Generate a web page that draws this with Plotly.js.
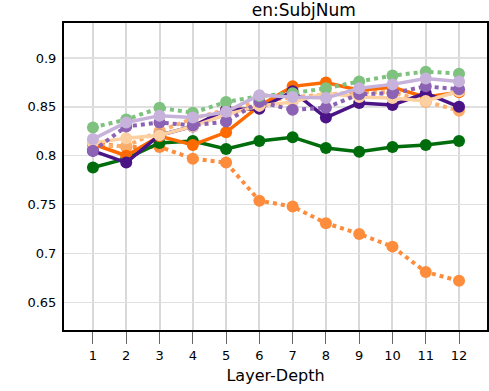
<!DOCTYPE html>
<html>
<head>
<meta charset="utf-8">
<script src="https://cdn.plot.ly/plotly-3.0.1.min.js"></script>
<style>
  html, body { margin: 0; padding: 0; background: #fff; }
  #graph { width: 489px; height: 391px; }
</style>
</head>
<body>
<div id="graph"></div>
<script>
const layers = [1, 2, 3, 4, 5, 6, 7, 8, 9, 10, 11, 12];

const greenSolid = [0.788, 0.797, 0.813, 0.815, 0.807, 0.815, 0.819, 0.808, 0.804, 0.809, 0.811, 0.815];
const greenDot = [0.829, 0.837, 0.849, 0.844, 0.855, 0.861, 0.864, 0.869, 0.876, 0.882, 0.886, 0.884];
const orangeSolid = [0.812, 0.800, 0.820, 0.811, 0.824, 0.851, 0.871, 0.875, 0.867, 0.870, 0.860, 0.865];
const orangeDot = [0.813, 0.809, 0.809, 0.797, 0.793, 0.754, 0.748, 0.731, 0.720, 0.707, 0.681, 0.672];
const peachSolid = [0.813, 0.818, 0.821, 0.830, 0.842, 0.851, 0.855, 0.864, 0.860, 0.859, 0.856, 0.866];
const peachDot = [0.810, 0.810, 0.825, 0.838, 0.847, 0.855, 0.860, 0.862, 0.865, 0.865, 0.855, 0.846];
const purpleSolid = [0.805, 0.793, 0.821, 0.830, 0.847, 0.848, 0.866, 0.839, 0.854, 0.852, 0.864, 0.850];
const purpleDot = [0.805, 0.830, 0.834, 0.831, 0.835, 0.855, 0.847, 0.849, 0.863, 0.864, 0.871, 0.868];
const lavenderSolid = [0.817, 0.834, 0.841, 0.839, 0.845, 0.862, 0.860, 0.859, 0.869, 0.873, 0.879, 0.876];

function series(y, color, dash) {
  return {
    x: layers,
    y: y,
    type: "scatter",
    mode: "lines+markers",
    line: { color: color, width: dash === "dot" ? 4 : 3.5, dash: dash },
    marker: { color: color, size: 12 },
    hoverinfo: "skip",
  };
}

const data = [
  series(orangeDot, "#fd8d3c", "dot"),
  series(peachDot, "#fdae6b", "dot"),
  series(greenSolid, "#006d0c", "solid"),
  series(orangeSolid, "#fd6a02", "solid"),
  series(purpleSolid, "#4a1486", "solid"),
  series(peachSolid, "#fdd0a2", "solid"),
  series(purpleDot, "#8c62b4", "dot"),
  series(greenDot, "#7fc27f", "dot"),
  series(lavenderSolid, "#c6b2db", "solid"),
];

const layout = {
  width: 489,
  height: 391,
  showlegend: false,
  paper_bgcolor: "#fff",
  plot_bgcolor: "#fff",
  font: { family: "DejaVu Sans, Verdana, sans-serif", color: "#000", size: 13 },
  margin: { l: 64, r: 2, t: 23, b: 61 },
  title: {
    text: "en:SubjNum",
    font: { size: 17 },
    xref: "paper",
    x: 0.567,
    xanchor: "center",
    y: 0.975,
    yanchor: "middle",
  },
  xaxis: {
    range: [0.13, 12.84],
    tickvals: layers,
    ticktext: layers.map(String),
    ticks: "outside",
    ticklen: 12,
    tickwidth: 1,
    tickcolor: "#666",
    showgrid: true,
    gridcolor: "#d9d9d9",
    gridwidth: 2,
    showline: true,
    mirror: true,
    linecolor: "#000",
    linewidth: 2,
    zeroline: false,
    title: { text: "Layer-Depth", font: { size: 16 }, standoff: 8 },
  },
  yaxis: {
    range: [0.6217, 0.9358],
    tickvals: [0.65, 0.7, 0.75, 0.8, 0.85, 0.9],
    ticktext: ["0.65", "0.7", "0.75", "0.8", "0.85", "0.9"],
    ticks: "",
    showgrid: true,
    gridcolor: "#e0e0e0",
    gridwidth: 1.5,
    showline: true,
    mirror: true,
    linecolor: "#000",
    linewidth: 2,
    zeroline: false,
    ticklabelstandoff: 3,
  },
};

Plotly.newPlot("graph", data, layout, { displayModeBar: false, staticPlot: true });
</script>
</body>
</html>
